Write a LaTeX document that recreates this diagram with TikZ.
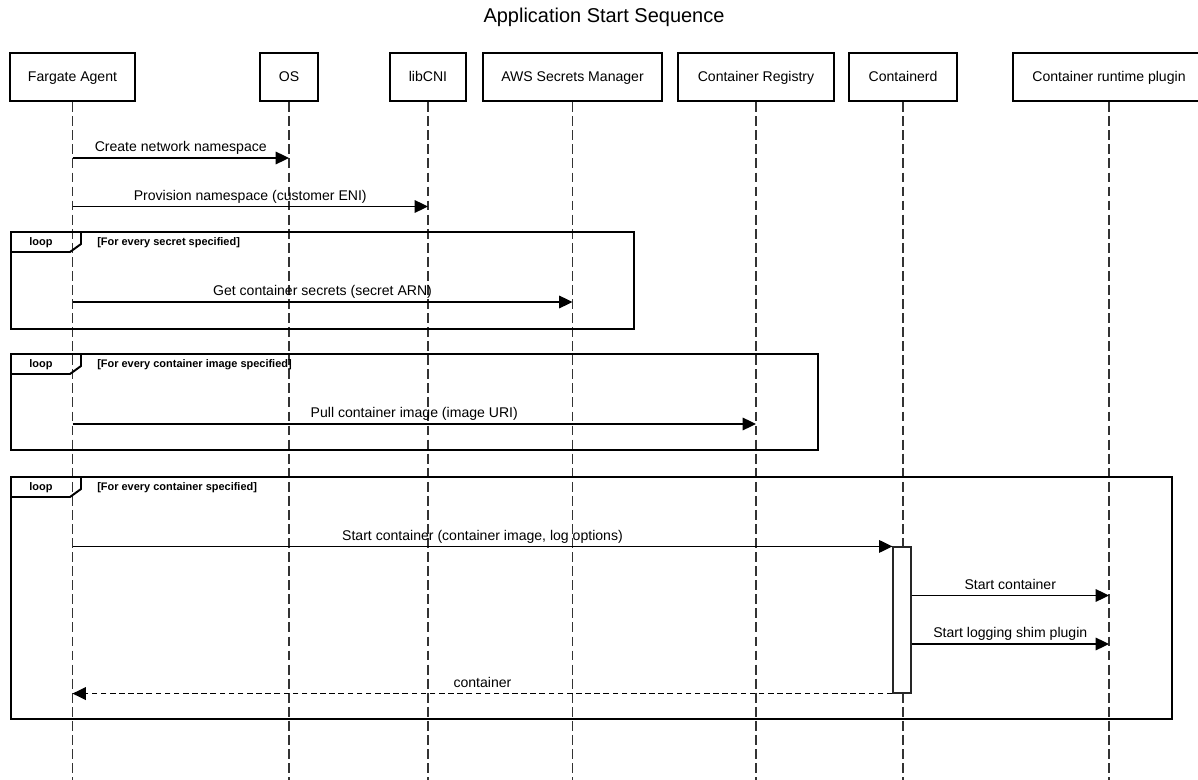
\documentclass[tikz,border=0pt]{standalone}
\usepackage{fontspec}
\setmainfont{Liberation Sans}
\setsansfont{Liberation Sans}
\usepackage{tikz}
\usetikzlibrary{positioning, arrows.meta, calc}

\begin{document}
\begin{tikzpicture}[
  x=0.025cm, y=-0.025cm,
  every node/.style={font=\sffamily},
  actor/.style={
    rectangle, draw=black, line width=1.7pt, fill=white,
    minimum width={#1*0.025cm}, minimum height={48*0.025cm}, inner sep=0pt,
    text height=1.6ex, text depth=0.45ex,
    font=\sffamily\fontsize{10}{12}\selectfont
  },
  lifeline/.style={black!80, line width=0.9pt, dash pattern=on 7pt off 3pt},
  msg/.style={black, line width=0.9pt, -{Triangle[length=9.5pt, width=9pt]}},
  reply/.style={msg, dash pattern=on 4pt off 2.5pt},
  msglabel/.style={anchor=base, yshift=4.5pt, inner sep=0pt,
    font=\sffamily\fontsize{10}{12}\selectfont},
  activebox/.style={rectangle, draw=black!85, line width=0.8pt, fill=white,
    minimum width={18*0.025cm}, minimum height={146*0.025cm}, inner sep=0pt},
  loopframe/.style={draw=black, line width=1.4pt},
  looptag/.style={inner sep=0pt, font=\sffamily\bfseries\fontsize{7.8}{9}\selectfont},
  loopcond/.style={anchor=west, inner sep=0pt, font=\sffamily\bfseries\fontsize{7.8}{9}\selectfont},
]
\useasboundingbox (0,0) rectangle (1198,780);

% Title
\node[font=\sffamily\fontsize{14.2}{16}\selectfont] (title) at (604,17) {Application Start Sequence};

% Participants
\node[actor=125] (fa)  at (72.5,77) {Fargate Agent};
\node[actor=58]  (os)  at (289,77)  {OS};
\node[actor=76]  (cni) at (428,77)  {libCNI};
\node[actor=179] (asm) at (572.5,77) {AWS Secrets Manager};
\node[actor=156] (reg) at (756,77)  {Container Registry};
\node[actor=108] (ctd) at (903,77)  {Containerd};
\node[actor=192] (rtp) at (1109,77) {Container runtime plugin};

% Lifelines
\foreach \p in {fa,os,cni,asm,reg,ctd,rtp} {
  \coordinate (\p-end) at (\p.south |- 0,780);
  \draw[lifeline] (\p.south) -- (\p-end);
}

% Message rows
\coordinate (r1) at (0,158);
\coordinate (r2) at (0,206.5);
\coordinate (r3) at (0,302);
\coordinate (r4) at (0,424);
\coordinate (r6) at (0,595.5);
\coordinate (r7) at (0,644);

% Loops
\foreach \ty/\by/\rx/\cond in {232/329/634/secret, 354/450/818/container image, 477/719/1172/container} {
  \draw[loopframe] (11,\ty) rectangle (\rx,\by);
  \draw[loopframe] (11,\ty+20) -- (70,\ty+20) -- (81,\ty+12) -- (81,\ty);
  \node[looptag] at (41,\ty+10.5) {loop};
  \node[loopcond] at (97,\ty+10.5) {[For every \cond\ specified]};
}

% Activation on Containerd
\node[activebox] (act) at (902,620) {};

% Messages
\draw[msg] (fa |- r1) -- node[msglabel] {Create network namespace} (os |- r1);
\draw[msg] (fa |- r2) -- node[msglabel] {Provision namespace (customer ENI)} (cni |- r2);
\draw[msg] (fa |- r3) -- node[msglabel] {Get container secrets (secret ARN)} (asm |- r3);
\draw[msg] (fa |- r4) -- node[msglabel] {Pull container image (image URI)} (reg |- r4);
\draw[msg] (fa |- act.north west) -- node[msglabel] {Start container (container image, log options)} (act.north west);
\draw[msg] (act.east |- r6) -- node[msglabel] {Start container} (rtp |- r6);
\draw[msg] (act.east |- r7) -- node[msglabel] {Start logging shim plugin} (rtp |- r7);
\draw[reply] (act.south west) -- node[msglabel] {container} (fa |- act.south);

\end{tikzpicture}
\end{document}
